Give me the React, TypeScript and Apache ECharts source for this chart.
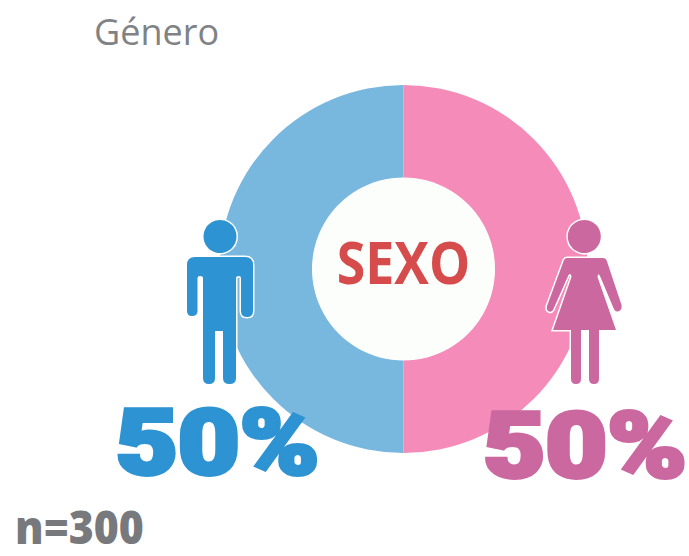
import React, { useEffect, useRef } from "react";
import * as echarts from "echarts";

const categories = ["Mujer", "Hombre"];
const values = [50, 50];
const sliceColors = ["#F48BB8", "#78B7DE"];
const figureColors = ["#CB68A0", "#2D93D2"];
const titleText = "Género";
const centerText = "SEXO";
const sampleText = "n=300";

const manBody =
  "M195 257 H245 Q253 257 253 265 V311 Q253 317 247 317 Q241 317 241 311 V278 Q241 276 238.5 276 Q236 276 236 278 V378 Q236 384 229.5 384 Q223 384 223 378 V331 H215 V378 Q215 384 209 384 Q203 384 203 378 V278 Q203 276 200 276 Q197.5 276 197.5 278 V311 Q197.5 316 192 316 Q187 316 187 311 V265 Q187 257 195 257 Z";
const womanBody =
  "M567 258 H603 Q605.5 258 606.5 260 L621.5 305 Q622.5 310 618 311.5 Q615 312 613.5 308 L600 276 Q598 272 597.5 277 L616 330 H599 V379 Q599 384 594 384 Q589 384 589 379 V330 H581 V379 Q581 384 576 384 Q571 384 571 379 V330 H553 L571.5 277 Q571 272 568.5 275 L553 310 Q551 313 548 311 Q546 309 547 306 L564 260 Q565 258 567 258 Z";

echarts.graphic.registerShape("manBody", echarts.graphic.extendPath(manBody, {}));
echarts.graphic.registerShape("womanBody", echarts.graphic.extendPath(womanBody, {}));

export default function App() {
  const ref = useRef<HTMLDivElement>(null);
  useEffect(() => {
    const chart = echarts.init(ref.current!, undefined, { renderer: "svg" });
    const halo = { fill: "#fff", stroke: "#fff", lineWidth: 3 };
    const bigFont = { fontFamily: "Roboto", fontWeight: 900 as const, fontSize: 90, lineWidth: 4 };
    chart.setOption({
      animation: false,
      backgroundColor: "#fff",
      title: {
        text: titleText,
        left: 89,
        top: 8,
        textStyle: { fontFamily: "Open Sans", fontSize: 36, fontWeight: 400, color: "#808285" },
      },
      series: [
        {
          type: "pie",
          center: [403.5, 269],
          radius: [91, 184],
          startAngle: 90,
          clockwise: true,
          silent: true,
          label: { show: false },
          labelLine: { show: false },
          itemStyle: { borderWidth: 0 },
          data: categories.map((name, i) => ({
            name,
            value: values[i],
            itemStyle: { color: sliceColors[i] },
          })),
        },
      ],
      graphic: [
        { type: "circle", z: 10, shape: { cx: 403.5, cy: 269, r: 91.5 }, style: { fill: "#FCFEFC" } },
        {
          type: "text", z: 11, x: 403.5, y: 260.5, scaleX: 0.865,
          style: {
            text: centerText, align: "center", verticalAlign: "middle", fill: "#D64B4B",
            fontFamily: "Open Sans", fontWeight: 700, fontSize: 60,
          },
        },
        { type: "circle", z: 11, shape: { cx: 220, cy: 236.5, r: 16.5 }, style: halo },
        { type: "manBody", z: 11, style: halo },
        { type: "circle", z: 12, shape: { cx: 220, cy: 236.5, r: 16.5 }, style: { fill: figureColors[1] } },
        { type: "manBody", z: 12, style: { fill: figureColors[1] } },
        { type: "circle", z: 11, shape: { cx: 584.3, cy: 236.5, r: 16.5 }, style: halo },
        { type: "womanBody", z: 11, style: halo },
        { type: "circle", z: 12, shape: { cx: 584.3, cy: 236.5, r: 16.5 }, style: { fill: figureColors[0] } },
        { type: "womanBody", z: 12, style: { fill: figureColors[0] } },
        {
          type: "text", z: 13, x: 217.5, y: 443.5, scaleX: 1.19,
          style: { text: `${values[1]}%`, align: "center", verticalAlign: "middle", fill: figureColors[1], stroke: figureColors[1], ...bigFont },
        },
        {
          type: "text", z: 13, x: 585, y: 446, scaleX: 1.19,
          style: { text: `${values[0]}%`, align: "center", verticalAlign: "middle", fill: figureColors[0], stroke: figureColors[0], ...bigFont },
        },
        {
          type: "text", z: 13, x: 15, y: 503, scaleX: 0.93,
          style: {
            text: sampleText, fill: "#77797C",
            fontFamily: "Open Sans", fontWeight: 800, fontSize: 46,
          },
        },
      ],
    });
    return () => chart.dispose();
  }, []);
  return <div ref={ref} style={{ position: "absolute", left: 0, top: 0, width: 689, height: 556 }} />;
}
